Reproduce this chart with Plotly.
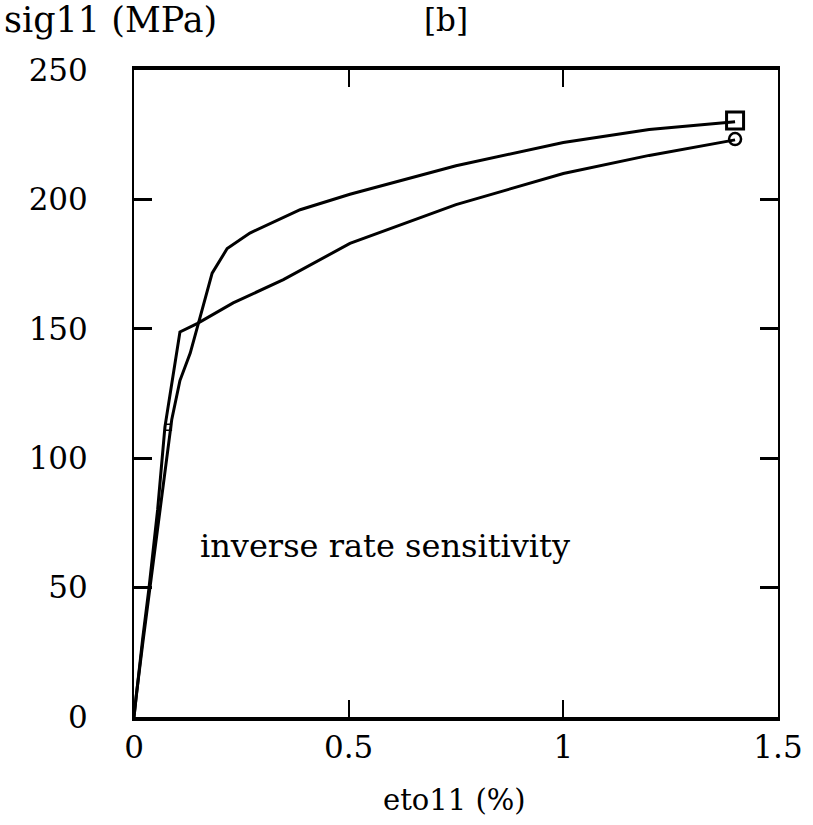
import plotly.graph_objects as go

# Stress-strain response, inverse rate sensitivity case
# Curve ending with the circle marker
strain_a = [0.0, 0.005, 0.02, 0.035, 0.055, 0.072, 0.088, 0.107, 0.147, 0.231, 0.348, 0.503, 0.75, 1.0, 1.2, 1.4]
stress_a = [0.0, 8, 30, 50, 80, 112, 129, 148.8, 152, 160, 169, 183, 198, 210, 217, 223]

# Curve ending with the square marker
strain_b = [0.0, 0.005, 0.02, 0.037, 0.06, 0.088, 0.107, 0.131, 0.154, 0.182, 0.217, 0.27, 0.387, 0.503, 0.75, 1.0, 1.2, 1.4]
stress_b = [0.0, 8, 28, 50, 80, 115, 130, 140.6, 154.5, 171.5, 181, 187, 196, 202, 213, 222, 227, 230]

end_square = (1.4, 230.5)
end_circle = (1.4, 223.3)
start_square = (0.08, 112)

x_ticks = [0, 0.5, 1, 1.5]
x_tick_text = ["0", "0.5", "1", "1.5"]
y_ticks = [0, 50, 100, 150, 200, 250]
y_tick_text = ["0", "50", "100", "150", "200", "250"]

FONT = "DejaVu Serif"

fig = go.Figure()
fig.add_trace(go.Scatter(x=strain_a, y=stress_a, mode="lines",
                         line=dict(color="black", width=3), showlegend=False))
fig.add_trace(go.Scatter(x=strain_b, y=stress_b, mode="lines",
                         line=dict(color="black", width=3), showlegend=False))
fig.add_trace(go.Scatter(x=[end_square[0]], y=[end_square[1]], mode="markers",
                         marker=dict(symbol="square-open", size=17, color="black",
                                     line=dict(width=3)), showlegend=False))
fig.add_trace(go.Scatter(x=[end_circle[0]], y=[end_circle[1]], mode="markers",
                         marker=dict(symbol="circle-open", size=12, color="black",
                                     line=dict(width=2.5)), showlegend=False))
fig.add_trace(go.Scatter(x=[start_square[0]], y=[start_square[1]], mode="markers",
                         marker=dict(symbol="square-open", size=6, color="black",
                                     line=dict(width=1.5)), showlegend=False))

fig.update_xaxes(range=[0, 1.5], tickvals=x_ticks, ticktext=x_tick_text,
                 showline=True, linecolor="black", linewidth=4, mirror="ticks",
                 ticks="inside", ticklen=17, tickwidth=2, tickcolor="black",
                 showgrid=False, zeroline=False, ticklabelstandoff=0,
                 automargin=False,
                 tickfont=dict(family=FONT, size=31, color="black"))
fig.update_yaxes(range=[0, 250], tickvals=y_ticks, ticktext=y_tick_text,
                 showline=True, linecolor="black", linewidth=2, mirror="ticks",
                 ticks="inside", ticklen=18, tickwidth=3, tickcolor="black",
                 showgrid=False, zeroline=False, ticklabelstandoff=38,
                 automargin=False,
                 tickfont=dict(family=FONT, size=31, color="black"))

fig.add_annotation(text="sig11 (MPa)", x=-0.205, y=1.077, xref="paper", yref="paper",
                   xanchor="left", yanchor="middle", showarrow=False,
                   font=dict(family=FONT, size=35, color="black"))
fig.add_annotation(text="[b]", x=0.484, y=1.077, xref="paper", yref="paper",
                   xanchor="center", yanchor="middle", showarrow=False,
                   font=dict(family=FONT, size=31, color="black"))
fig.add_annotation(text="eto11 (%)", x=0.498, y=-0.128, xref="paper", yref="paper",
                   xanchor="center", yanchor="middle", showarrow=False,
                   font=dict(family=FONT, size=29, color="black"))
fig.add_annotation(text="inverse rate sensitivity", x=0.149, y=66, xref="x", yref="y",
                   xanchor="left", yanchor="middle", showarrow=False,
                   font=dict(family=FONT, size=32, color="black"))

fig.update_layout(width=813, height=825,
                  margin=dict(l=134, r=35, t=70, b=108),
                  plot_bgcolor="white", paper_bgcolor="white")

fig.write_html("out.html")
